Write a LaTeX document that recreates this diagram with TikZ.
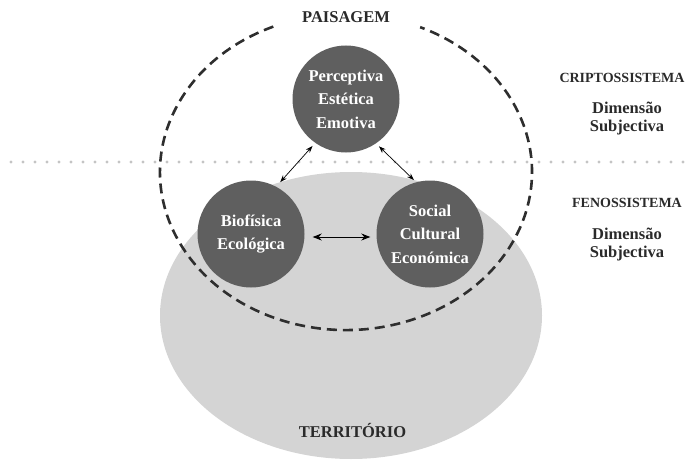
\documentclass[tikz,border=0pt]{standalone}
\usepackage{fontspec}
\setmainfont{Liberation Serif}
\usetikzlibrary{arrows.meta}
\definecolor{circfill}{HTML}{5F5F5F}
\definecolor{terrfill}{HTML}{D4D4D4}
\definecolor{dotgray}{HTML}{C4C4C4}
\definecolor{dashcol}{HTML}{2E2E2E}
\definecolor{txtcol}{HTML}{2A2A2A}
\tikzset{
  dimcircle/.style={circle, fill=circfill, minimum size=107pt, inner sep=0pt,
    text=white, font=\fontsize{16.5}{23.5}\selectfont\bfseries, align=center},
  heading/.style={text=txtcol, font=\fontsize{14}{17}\selectfont\bfseries, align=center, inner sep=0pt},
  subhead/.style={text=txtcol, font=\fontsize{16.5}{18}\selectfont\bfseries, align=center, inner sep=0pt},
  bigtitle/.style={text=txtcol, font=\fontsize{16.5}{18}\selectfont\bfseries, inner sep=0pt},
  link/.style={{Stealth[length=7pt,width=5pt]}-{Stealth[length=7pt,width=5pt]}, line width=0.7pt, black},
  midlink/.style={{Stealth[length=9pt,width=7pt]}-{Stealth[length=9pt,width=7pt]}, line width=0.9pt, black},
  paisdash/.style={dashcol, line width=2.6pt, dash pattern=on 10pt off 6pt},
}
\begin{document}
\begin{tikzpicture}[x=1pt,y=1pt]
\useasboundingbox (0,0) rectangle (688,-460);
% territory ellipse
\fill[terrfill] (351,-315.5) ellipse[x radius=191pt, y radius=143.5pt];
% dotted separator
\coordinate (dotstart) at (11,-162);
\coordinate (dotend) at (688,-162);
\draw[dotgray, line width=3.4pt, line cap=round, dash pattern=on 0pt off 12pt] (dotstart) -- (dotend);
% landscape dashed ellipse with gap for title
\coordinate (gapleft) at (273.3,-26.6);
\draw[paisdash] (gapleft) arc[start angle=113, end angle=426.5, x radius=186pt, y radius=158pt];
% circles
\node[dimcircle] (perc) at (346,-99) {Perceptiva\\Estética\\Emotiva};
\node[dimcircle] (bio) at (251,-234) {Biofísica\\Ecológica};
\node[dimcircle] (soc) at (430,-234) {Social\\Cultural\\Económica};
% arrows
\draw[link, shorten <=4pt, shorten >=6pt] (perc.235) -- (bio.62);
\draw[link, shorten <=4pt, shorten >=3pt] (perc.304.5) -- (soc.105.5);
\draw[midlink, shorten <=8pt, shorten >=6pt] ([yshift=-3pt]bio.east) -- ([yshift=-3pt]soc.west);
% labels
\node[bigtitle] (pais) at (346,-17) {PAISAGEM};
\node[bigtitle] (terr) at (352.5,-430) {TERRITÓRIO};
\node[heading] (cripto) at (622,-78) {CRIPTOSSISTEMA};
\node[subhead] (dim1) at (627,-119) {Dimensão\\Subjectiva};
\node[heading] (feno) at (627,-203) {FENOSSISTEMA};
\node[subhead] (dim2) at (627,-245) {Dimensão\\Subjectiva};
\end{tikzpicture}
\end{document}
